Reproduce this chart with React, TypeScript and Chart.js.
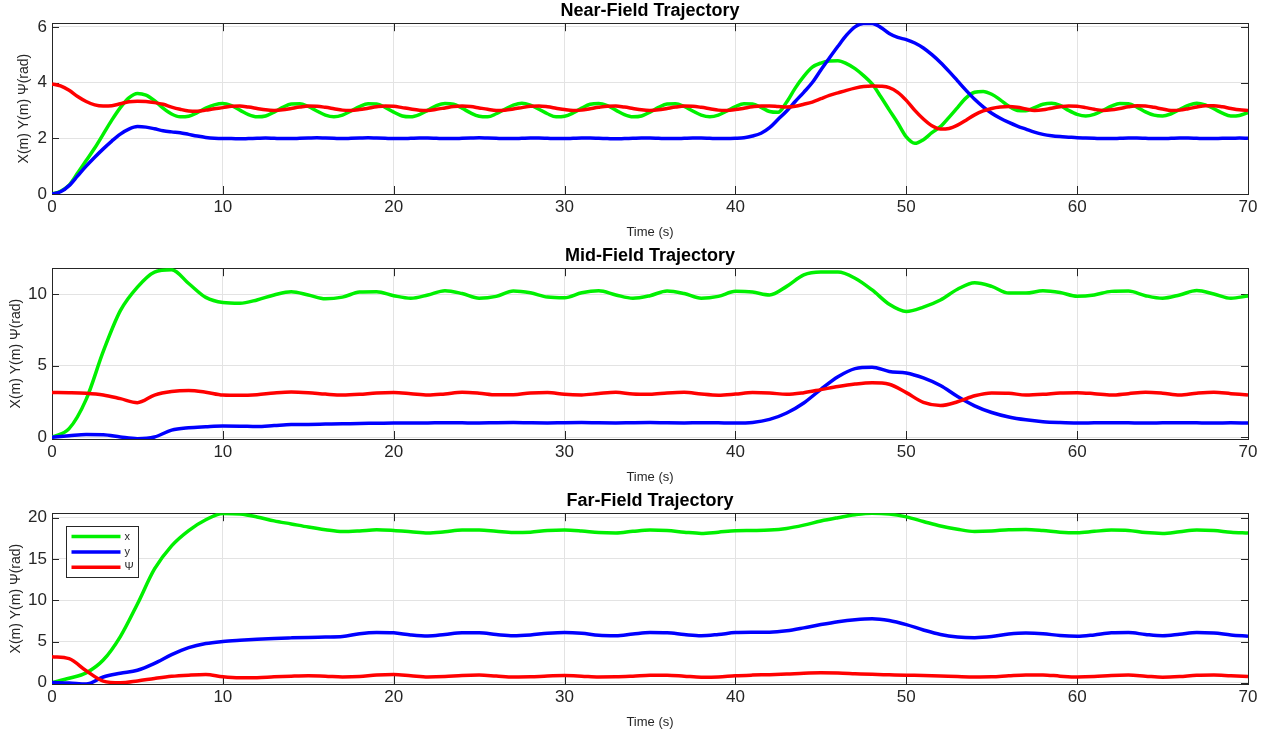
import React, { useEffect, useRef } from "react";
import { Chart, registerables } from "chart.js";

Chart.register(...registerables);

// ---------- text ----------
const PANEL_TITLES = ["Near-Field Trajectory", "Mid-Field Trajectory", "Far-Field Trajectory"];
const X_AXIS_TITLE = "Time (s)";
const Y_AXIS_TITLE = "X(m) Y(m) \u03A8(rad)";
const SERIES_LABELS = ["x", "y", "\u03A8"];

// ---------- axes ----------
const X_MIN = 0;
const X_MAX = 70;
const X_STEP = 10;
const Y_MIN = [0, -0.12, -0.15];
const Y_MAX = [6.13, 11.82, 20.55];
const Y_STEP = [2, 5, 5];

// ---------- sampling times ----------
const TIME_FINE = [
  0, 0.5, 1, 1.5, 2, 2.5, 3, 3.5, 4, 4.5,
  5, 5.5, 6, 6.5, 7, 7.5, 8, 8.5, 9, 9.5,
  10, 10.5, 11, 11.5, 12, 12.5, 13, 13.5, 14, 14.5,
  15, 15.5, 16, 16.5, 17, 17.5, 18, 18.5, 19, 19.5,
  20, 20.5, 21, 21.5, 22, 22.5, 23, 23.5, 24, 24.5,
  25, 25.5, 26, 26.5, 27, 27.5, 28, 28.5, 29, 29.5,
  30, 30.5, 31, 31.5, 32, 32.5, 33, 33.5, 34, 34.5,
  35, 35.5, 36, 36.5, 37, 37.5, 38, 38.5, 39, 39.5,
  40, 40.5, 41, 41.5, 42, 42.5, 43, 43.5, 44, 44.5,
  45, 45.5, 46, 46.5, 47, 47.5, 48, 48.5, 49, 49.5,
  50, 50.5, 51, 51.5, 52, 52.5, 53, 53.5, 54, 54.5,
  55, 55.5, 56, 56.5, 57, 57.5, 58, 58.5, 59, 59.5,
  60, 60.5, 61, 61.5, 62, 62.5, 63, 63.5, 64, 64.5,
  65, 65.5, 66, 66.5, 67, 67.5, 68, 68.5, 69, 69.5,
  70,
];

const TIME_COARSE = [
  0, 1, 2, 3, 4, 5, 6, 7, 8, 9,
  10, 11, 12, 13, 14, 15, 16, 17, 18, 19,
  20, 21, 22, 23, 24, 25, 26, 27, 28, 29,
  30, 31, 32, 33, 34, 35, 36, 37, 38, 39,
  40, 41, 42, 43, 44, 45, 46, 47, 48, 49,
  50, 51, 52, 53, 54, 55, 56, 57, 58, 59,
  60, 61, 62, 63, 64, 65, 66, 67, 68, 69,
  70,
];

// ---------- Near-field (TIME_FINE) ----------
const NEAR_X = [
  0, 0.10, 0.32, 0.75, 1.20, 1.65, 2.15, 2.65, 3.10, 3.45,
  3.61, 3.55, 3.35, 3.08, 2.87, 2.77, 2.79, 2.92, 3.08, 3.20,
  3.25, 3.17, 3.01, 2.85, 2.77, 2.80, 2.94, 3.11, 3.23, 3.24,
  3.14, 2.98, 2.83, 2.77, 2.83, 2.98, 3.14, 3.24, 3.23, 3.11,
  2.94, 2.80, 2.77, 2.85, 3.01, 3.17, 3.25, 3.22, 3.08, 2.91,
  2.79, 2.77, 2.88, 3.04, 3.19, 3.26, 3.19, 3.04, 2.88, 2.77,
  2.79, 2.91, 3.08, 3.22, 3.25, 3.17, 3.01, 2.85, 2.77, 2.80,
  2.94, 3.11, 3.23, 3.24, 3.14, 2.98, 2.83, 2.77, 2.83, 2.98,
  3.14, 3.24, 3.23, 3.11, 2.96, 2.93, 3.30, 3.80, 4.22, 4.55,
  4.70, 4.77, 4.78, 4.68, 4.50, 4.25, 3.95, 3.50, 3.02, 2.55,
  2.05, 1.82, 1.95, 2.20, 2.42, 2.75, 3.10, 3.45, 3.65, 3.68,
  3.58, 3.38, 3.15, 3.00, 2.99, 3.10, 3.22, 3.26, 3.18, 3.00,
  2.86, 2.80, 2.86, 3.00, 3.15, 3.25, 3.24, 3.12, 2.95, 2.83,
  2.80, 2.88, 3.03, 3.18, 3.26, 3.20, 3.06, 2.90, 2.80, 2.82,
  2.92,
];
const NEAR_Y = [
  0, 0.08, 0.30, 0.65, 1.00, 1.32, 1.62, 1.90, 2.15, 2.33,
  2.42, 2.40, 2.34, 2.27, 2.23, 2.20, 2.14, 2.08, 2.03, 2.00,
  1.99, 1.99, 1.98, 1.99, 2.00, 2.01, 2.00, 1.99, 1.99, 2.00,
  2.01, 2.02, 2.01, 2.00, 1.99, 2.00, 2.01, 2.02, 2.01, 2.00,
  1.99, 1.99, 2.00, 2.01, 2.01, 2.00, 1.99, 1.99, 2.00, 2.01,
  2.02, 2.01, 2.00, 1.99, 1.99, 2.00, 2.01, 2.01, 2.00, 1.99,
  1.99, 2.00, 2.01, 2.01, 2.00, 1.99, 1.98, 1.99, 2.00, 2.01,
  2.01, 2.00, 1.99, 1.99, 2.00, 2.01, 2.01, 2.00, 1.99, 1.99,
  2.00, 2.02, 2.08, 2.18, 2.38, 2.68, 2.98, 3.32, 3.65, 4.00,
  4.45, 4.88, 5.30, 5.70, 6.00, 6.12, 6.12, 5.98, 5.76, 5.62,
  5.54, 5.42, 5.24, 5.00, 4.72, 4.40, 4.06, 3.72, 3.40, 3.13,
  2.90, 2.72, 2.57, 2.44, 2.33, 2.22, 2.14, 2.09, 2.06, 2.04,
  2.02, 2.01, 2.00, 1.99, 1.99, 2.00, 2.01, 2.01, 2.00, 1.99,
  1.99, 2.00, 2.01, 2.01, 2.00, 1.99, 1.99, 2.00, 2.00, 2.01,
  2.00,
];
const NEAR_PSI = [
  3.95, 3.88, 3.72, 3.50, 3.32, 3.20, 3.16, 3.17, 3.24, 3.31,
  3.33, 3.32, 3.28, 3.22, 3.12, 3.04, 2.98, 2.97, 3.01, 3.06,
  3.10, 3.15, 3.16, 3.12, 3.07, 3.02, 3.00, 3.02, 3.07, 3.12,
  3.16, 3.15, 3.11, 3.06, 3.01, 3.00, 3.03, 3.08, 3.13, 3.16,
  3.15, 3.10, 3.05, 3.01, 3.00, 3.04, 3.09, 3.14, 3.16, 3.14,
  3.09, 3.04, 3.00, 3.01, 3.05, 3.10, 3.15, 3.16, 3.13, 3.08,
  3.03, 3.00, 3.01, 3.06, 3.11, 3.15, 3.16, 3.12, 3.07, 3.02,
  3.00, 3.02, 3.07, 3.12, 3.16, 3.15, 3.11, 3.06, 3.01, 3.00,
  3.03, 3.08, 3.13, 3.16, 3.16, 3.14, 3.12, 3.15, 3.22, 3.30,
  3.42, 3.54, 3.63, 3.72, 3.80, 3.86, 3.88, 3.87, 3.82, 3.65,
  3.36, 3.00, 2.69, 2.45, 2.33, 2.35, 2.47, 2.65, 2.84, 2.98,
  3.07, 3.12, 3.14, 3.11, 3.05, 3.00, 3.02, 3.08, 3.13, 3.16,
  3.15, 3.10, 3.04, 3.00, 3.02, 3.07, 3.13, 3.17, 3.16, 3.11,
  3.05, 3.00, 3.01, 3.06, 3.12, 3.17, 3.17, 3.13, 3.07, 3.02,
  3.00,
];

// ---------- Mid-field (TIME_COARSE) ----------
const MID_X = [
  0, 0.60, 2.65, 6.00, 8.85, 10.50, 11.55, 11.72, 10.75, 9.78,
  9.42, 9.37, 9.60, 9.95, 10.18, 9.95, 9.68, 9.80, 10.15, 10.18,
  9.90, 9.72, 9.95, 10.25, 10.05, 9.72, 9.85, 10.23, 10.10, 9.80,
  9.75, 10.10, 10.24, 9.95, 9.72, 9.90, 10.23, 10.05, 9.72, 9.85,
  10.20, 10.15, 9.95, 10.55, 11.35, 11.55, 11.55, 11.12, 10.30, 9.30,
  8.80, 9.10, 9.60, 10.35, 10.80, 10.55, 10.08, 10.08, 10.24, 10.12,
  9.86, 9.95, 10.20, 10.22, 9.90, 9.72, 9.95, 10.26, 10.02, 9.72,
  9.88,
];
const MID_Y = [
  0, 0.10, 0.19, 0.18, 0.02, -0.10, 0.02, 0.50, 0.67, 0.74,
  0.79, 0.78, 0.75, 0.82, 0.89, 0.90, 0.92, 0.94, 0.97, 0.98,
  1.00, 0.99, 1.00, 1.02, 1.01, 1.00, 1.02, 1.03, 1.01, 1.00,
  1.02, 1.03, 1.01, 1.00, 1.02, 1.03, 1.01, 1.00, 1.02, 1.01,
  1.00, 1.04, 1.25, 1.70, 2.40, 3.35, 4.23, 4.80, 4.90, 4.60,
  4.50, 4.15, 3.62, 2.85, 2.20, 1.73, 1.42, 1.22, 1.09, 1.03,
  1.00, 1.01, 1.02, 1.01, 1.00, 1.01, 1.02, 1.01, 1.00, 1.01,
  1.00,
];
const MID_PSI = [
  3.13, 3.12, 3.08, 2.96, 2.70, 2.42, 2.95, 3.20, 3.27, 3.15,
  2.95, 2.93, 2.98, 3.10, 3.17, 3.12, 3.02, 2.95, 3.00, 3.10,
  3.13, 3.05, 2.95, 3.03, 3.14, 3.08, 2.97, 2.98, 3.10, 3.13,
  3.00, 2.96, 3.06, 3.14, 3.02, 3.00, 3.10, 3.15, 3.02, 2.94,
  3.02, 3.13, 3.10, 3.00, 3.12, 3.33, 3.55, 3.72, 3.81, 3.71,
  3.12, 2.44, 2.22, 2.48, 2.90, 3.10, 3.08, 2.95, 3.00, 3.10,
  3.12, 3.05, 2.95, 3.05, 3.15, 3.08, 2.95, 3.08, 3.15, 3.05,
  2.95,
];

// ---------- Far-field (TIME_COARSE) ----------
const FAR_X = [
  0, 0.55, 1.20, 2.75, 5.60, 9.55, 13.80, 16.60, 18.45, 19.76,
  20.52, 20.45, 20.10, 19.62, 19.25, 18.87, 18.55, 18.32, 18.40, 18.54,
  18.45, 18.30, 18.15, 18.30, 18.50, 18.50, 18.35, 18.20, 18.25, 18.45,
  18.52, 18.40, 18.20, 18.15, 18.35, 18.50, 18.45, 18.25, 18.10, 18.25,
  18.42, 18.45, 18.50, 18.70, 19.10, 19.60, 20.00, 20.36, 20.55, 20.45,
  20.10, 19.55, 19.00, 18.60, 18.34, 18.40, 18.55, 18.58, 18.45, 18.25,
  18.18, 18.35, 18.50, 18.45, 18.20, 18.10, 18.30, 18.50, 18.45, 18.25,
  18.14,
];
const FAR_Y = [
  0.03, -0.02, -0.15, 0.70, 1.15, 1.52, 2.35, 3.40, 4.25, 4.75,
  5.00, 5.15, 5.27, 5.37, 5.44, 5.50, 5.54, 5.60, 5.95, 6.10,
  6.05, 5.80, 5.67, 5.85, 6.05, 6.05, 5.85, 5.70, 5.80, 6.00,
  6.10, 6.00, 5.75, 5.70, 5.90, 6.08, 6.05, 5.85, 5.70, 5.85,
  6.08, 6.12, 6.13, 6.30, 6.65, 7.05, 7.40, 7.65, 7.77, 7.55,
  7.05, 6.40, 5.85, 5.55, 5.47, 5.60, 5.90, 6.03, 5.95, 5.72,
  5.63, 5.80, 6.05, 6.08, 5.85, 5.70, 5.88, 6.10, 6.02, 5.80,
  5.65,
];
const FAR_PSI = [
  3.16, 2.92, 1.45, 0.20, 0.00, 0.22, 0.52, 0.78, 0.92, 1.00,
  0.72, 0.60, 0.62, 0.72, 0.80, 0.85, 0.80, 0.70, 0.75, 0.95,
  1.00, 0.85, 0.70, 0.75, 0.88, 0.93, 0.82, 0.70, 0.72, 0.82,
  0.87, 0.80, 0.70, 0.72, 0.80, 0.90, 0.92, 0.80, 0.67, 0.70,
  0.85, 0.93, 0.98, 1.05, 1.15, 1.20, 1.18, 1.10, 1.02, 0.97,
  0.92, 0.88, 0.82, 0.75, 0.70, 0.72, 0.85, 0.95, 0.95, 0.80,
  0.70, 0.75, 0.88, 0.93, 0.80, 0.67, 0.75, 0.92, 0.95, 0.85,
  0.77,
];

// ---------- style ----------
const FONT = "'Liberation Sans', Arial, Helvetica, sans-serif";
const TEXT = "#262626";
const GRID = "#e3e3e3";
const SERIES_COLORS = ["#00f000", "#0000ff", "#ff0000"];
const PANEL_W = 1270;
const PANEL_H = 245;
const Y_TITLE_PAD = [15.5, 7.5, 7.5];

const PANELS = [
  { time: TIME_FINE, series: [NEAR_X, NEAR_Y, NEAR_PSI], legend: false },
  { time: TIME_COARSE, series: [MID_X, MID_Y, MID_PSI], legend: false },
  { time: TIME_COARSE, series: [FAR_X, FAR_Y, FAR_PSI], legend: true },
];

const matlabAxes = {
  id: "matlabAxes",
  beforeDatasetsDraw(chart: any) {
    const { ctx, chartArea, scales } = chart;
    const { left, right, top, bottom } = chartArea;
    ctx.save();
    ctx.strokeStyle = TEXT;
    ctx.lineWidth = 1;
    ctx.beginPath();
    for (const t of scales.x.ticks) {
      const px = Math.round(scales.x.getPixelForValue(t.value)) + 0.5;
      ctx.moveTo(px, bottom);
      ctx.lineTo(px, bottom - 8);
      ctx.moveTo(px, top);
      ctx.lineTo(px, top + 8);
    }
    for (const t of scales.y.ticks) {
      const py = Math.round(scales.y.getPixelForValue(t.value)) + 0.5;
      ctx.moveTo(left, py);
      ctx.lineTo(left + 7, py);
      ctx.moveTo(right, py);
      ctx.lineTo(right - 7, py);
    }
    ctx.stroke();
    ctx.strokeRect(
      Math.round(left) + 0.5,
      Math.round(top) + 0.5,
      Math.round(right - left),
      Math.round(bottom - top)
    );
    ctx.restore();
  },
  afterDatasetsDraw(chart: any, _args: any, opts: any) {
    if (!opts || !opts.show) return;
    const { ctx, chartArea } = chart;
    const bx = Math.round(chartArea.left + 14) + 0.5;
    const by = Math.round(chartArea.top + 13) + 0.5;
    const bw = 72;
    const bh = 51;
    ctx.save();
    ctx.fillStyle = "#ffffff";
    ctx.fillRect(bx, by, bw, bh);
    ctx.strokeStyle = TEXT;
    ctx.lineWidth = 1;
    ctx.strokeRect(bx, by, bw, bh);
    ctx.font = `11px ${FONT}`;
    ctx.textBaseline = "middle";
    ctx.textAlign = "left";
    chart.data.datasets.forEach((ds: any, i: number) => {
      const cy = by + 10 + i * 15.4;
      ctx.strokeStyle = ds.borderColor;
      ctx.lineWidth = 3.5;
      ctx.beginPath();
      ctx.moveTo(bx + 5, cy);
      ctx.lineTo(bx + 54, cy);
      ctx.stroke();
      ctx.fillStyle = TEXT;
      ctx.fillText(ds.label, bx + 58, cy);
    });
    ctx.restore();
  },
};

function TrajectoryPanel({ index }: { index: number }) {
  const ref = useRef<HTMLCanvasElement | null>(null);
  useEffect(() => {
    const panel = PANELS[index];
    const canvas = ref.current;
    if (!canvas) return;
    const datasets = panel.series.map((vals, i) => ({
      label: SERIES_LABELS[i],
      data: panel.time.map((t, k) => ({ x: t, y: vals[k] })),
      borderColor: SERIES_COLORS[i],
      backgroundColor: SERIES_COLORS[i],
      borderWidth: 3.5,
      pointRadius: 0,
      fill: false,
      cubicInterpolationMode: "monotone" as const,
      order: 3 - i,
    }));
    const chart = new Chart(canvas, {
      type: "line",
      data: { datasets },
      plugins: [matlabAxes],
      options: {
        responsive: false,
        animation: false,
        devicePixelRatio: 1,
        layout: { padding: { top: 0, right: 22, bottom: 0, left: 0 } },
        plugins: {
          legend: { display: false },
          tooltip: { enabled: false },
          title: {
            display: true,
            text: PANEL_TITLES[index],
            color: "#000000",
            fullSize: false,
            font: { family: FONT, size: 18, weight: "bold" },
            padding: { top: 0, bottom: 1.6 },
          },
          matlabAxes: { show: panel.legend },
        } as any,
        scales: {
          x: {
            type: "linear",
            min: X_MIN,
            max: X_MAX,
            border: { display: false },
            grid: { color: GRID, drawTicks: false, lineWidth: 1 },
            ticks: {
              stepSize: X_STEP,
              autoSkip: false,
              maxRotation: 0,
              includeBounds: false,
              padding: 3,
              color: TEXT,
              font: { family: FONT, size: 17 },
            },
            title: {
              display: true,
              text: X_AXIS_TITLE,
              color: TEXT,
              font: { family: FONT, size: 13 },
              padding: { top: 0, bottom: 5 },
            },
            afterFit: (s: any) => {
              s.height = 51;
            },
          },
          y: {
            type: "linear",
            min: Y_MIN[index],
            max: Y_MAX[index],
            border: { display: false },
            grid: { color: GRID, drawTicks: false, lineWidth: 1 },
            ticks: {
              stepSize: Y_STEP[index],
              includeBounds: false,
              padding: 5,
              color: TEXT,
              font: { family: FONT, size: 17 },
            },
            title: {
              display: true,
              text: Y_AXIS_TITLE,
              color: TEXT,
              font: { family: FONT, size: 14 },
              padding: { top: Y_TITLE_PAD[index], bottom: 0 },
            },
            afterFit: (s: any) => {
              s.width = 52;
            },
          },
        },
      },
    });
    return () => chart.destroy();
  }, [index]);

  return (
    <div
      style={{
        position: "absolute",
        left: 0,
        top: index * PANEL_H,
        width: PANEL_W,
        height: PANEL_H,
      }}
    >
      <canvas
        ref={ref}
        width={PANEL_W}
        height={PANEL_H}
        style={{ display: "block", width: PANEL_W, height: PANEL_H }}
      />
    </div>
  );
}

export default function App() {
  return (
    <div
      style={{
        position: "fixed",
        left: 0,
        top: 0,
        width: 1270,
        height: 733,
        overflow: "hidden",
        background: "#ffffff",
      }}
    >
      {PANELS.map((_, i) => (
        <TrajectoryPanel key={i} index={i} />
      ))}
    </div>
  );
}
